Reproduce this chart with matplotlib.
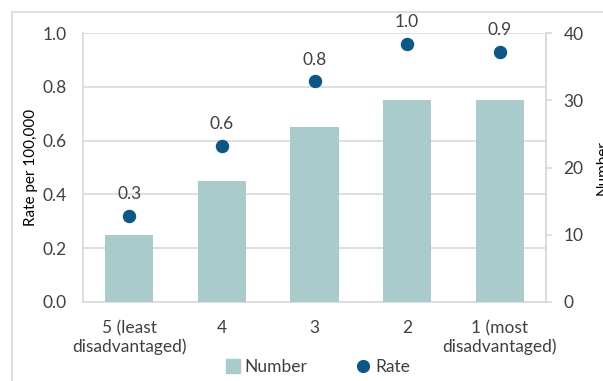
import matplotlib
matplotlib.use("Agg")
import matplotlib.pyplot as plt
from matplotlib.lines import Line2D
import numpy as np

plt.rcParams["font.family"] = ["Lato", "DejaVu Sans"]

categories = ["5 (least\ndisadvantaged)", "4", "3", "2", "1 (most\ndisadvantaged)"]
number = [10, 18, 26, 30, 30]
rate = [0.32, 0.58, 0.82, 0.96, 0.93]

BAR = "#a9cbcc"
DOT = "#0d5787"
GRID = "#d9d9d9"
TEXT = "#404040"
FS = 12.5

x = np.arange(len(categories))

fig = plt.figure(figsize=(6.03, 3.81), dpi=100)
ax = fig.add_axes([83 / 603, 1 - 302 / 381, 463 / 603, 269 / 381])

# left axis: rate scale and gridlines
ax.set_ylim(0, 1.0)
ax.set_yticks(np.arange(0, 1.01, 0.2))
ax.set_yticklabels([f"{v:.1f}" for v in np.arange(0, 1.01, 0.2)])
ax.set_xlim(-0.5, len(categories) - 0.5)
ax.grid(axis="y", color=GRID, lw=1.2)
ax.set_axisbelow(True)
ax.set_xticks(x, categories)
ax.tick_params(length=0, labelsize=FS, labelcolor=TEXT)
ax.tick_params(axis="y", pad=12)
ax.tick_params(axis="x", pad=13)
for s in ax.spines.values():
    s.set_color(GRID)
    s.set_linewidth(1.2)
ax.spines["top"].set_visible(False)
ax.set_ylabel("Rate per 100,000", fontsize=11, color="black", labelpad=3)

# right axis: counts as bars
ax2 = ax.twinx()
ax2.bar(x, number, width=0.52, color=BAR, label="Number")
ax2.set_ylim(0, 40)
ax2.set_yticks(range(0, 41, 10))
ax2.tick_params(axis="y", length=4.5, color=GRID, width=1.2, labelsize=FS,
                labelcolor=TEXT, pad=8)
for s in ax2.spines.values():
    s.set_visible(False)
ax2.spines["right"].set_visible(True)
ax2.spines["right"].set_color(GRID)
ax2.spines["right"].set_linewidth(1.2)
ax2.set_ylabel("Number", fontsize=11, color="black", labelpad=9)

# top layer: rate markers with labels
ax3 = ax.twinx()
ax3.set_ylim(0, 1.0)
ax3.axis("off")
ax3.scatter(x, rate, s=75, color=DOT, zorder=3, label="Rate")
for xi, r in zip(x, rate):
    ax3.annotate(f"{r:.1f}", (xi, r), xytext=(0, 10), textcoords="offset points",
                 ha="center", va="bottom", fontsize=FS, color=TEXT)

handles = [plt.Rectangle((0, 0), 1, 1, color=BAR),
           Line2D([], [], marker="o", ls="", color=DOT, markersize=8.5)]
fig.legend(handles, ["Number", "Rate"], loc="center", ncol=2,
           bbox_to_anchor=(318 / 603, 1 - 367 / 381), frameon=False,
           fontsize=FS, handlelength=0.8, handleheight=0.9, handletextpad=0.3,
           columnspacing=2.8, labelcolor=TEXT)

# chart-area border
fig.add_artist(Line2D([12 / 603, 12 / 603], [0, 1 - 12 / 381], color=GRID, lw=1.2))
fig.add_artist(Line2D([12 / 603, 1], [1 - 12 / 381, 1 - 12 / 381], color=GRID, lw=1.2))

fig.savefig("out.png", dpi=100)
